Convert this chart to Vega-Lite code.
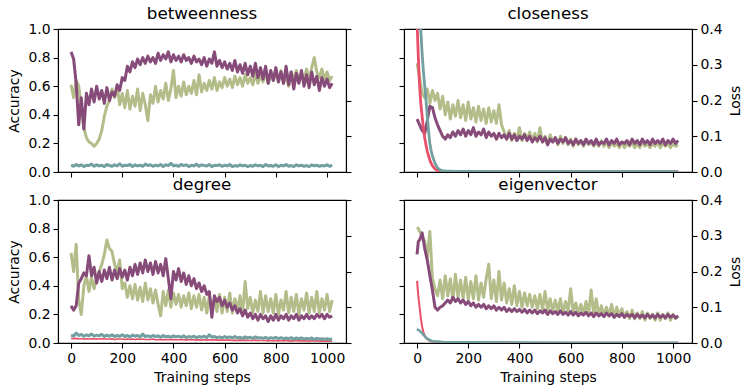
{
"$schema": "https://vega.github.io/schema/vega-lite/v6.json",
"padding": {"left": 7, "top": 5, "right": 0, "bottom": 0},
"background": "white",
"config": {
  "font": "DejaVu Sans",
  "view": {"stroke": "black", "strokeWidth": 1.1},
  "axis": {"grid": false, "domainColor": "black", "domainWidth": 1.1, "tickColor": "black", "tickWidth": 1.1, "tickSize": 5, "labelFont": "DejaVu Sans", "labelFontSize": 13.9, "labelColor": "black", "labelPadding": 3, "labelFlush": false, "labelOverlap": false, "titleFont": "DejaVu Sans", "titleFontSize": 13.9, "titleFontWeight": "normal", "titleColor": "black", "titlePadding": 6},
  "title": {"font": "DejaVu Sans", "fontSize": 16.7, "fontWeight": "normal", "color": "black", "offset": -1}
},
"datasets": {
"bet": [
{"s":0,"p":0.84,"o":0.61,"t":0.019},{"s":10,"p":0.79,"o":0.52,"t":0.016},{"s":20,"p":0.62,"o":0.64,"t":0.021},{"s":30,"p":0.33,"o":0.60,"t":0.017},{"s":40,"p":0.52,"o":0.45,"t":0.020},{"s":50,"p":0.30,"o":0.31,"t":0.015},{"s":60,"p":0.55,"o":0.24,"t":0.019},{"s":70,"p":0.47,"o":0.21,"t":0.018},{"s":80,"p":0.58,"o":0.20,"t":0.022},{"s":90,"p":0.49,"o":0.18,"t":0.016},
{"s":100,"p":0.60,"o":0.20,"t":0.020},{"s":110,"p":0.51,"o":0.23,"t":0.017},{"s":120,"p":0.57,"o":0.29,"t":0.019},{"s":130,"p":0.48,"o":0.39,"t":0.015},{"s":140,"p":0.59,"o":0.46,"t":0.021},{"s":150,"p":0.50,"o":0.50,"t":0.018},{"s":160,"p":0.56,"o":0.58,"t":0.016},{"s":170,"p":0.53,"o":0.52,"t":0.020},{"s":180,"p":0.61,"o":0.60,"t":0.017},{"s":190,"p":0.57,"o":0.47,"t":0.023},
{"s":200,"p":0.66,"o":0.55,"t":0.016},{"s":210,"p":0.64,"o":0.45,"t":0.019},{"s":220,"p":0.74,"o":0.57,"t":0.018},{"s":230,"p":0.70,"o":0.44,"t":0.021},{"s":240,"p":0.77,"o":0.53,"t":0.015},{"s":250,"p":0.73,"o":0.46,"t":0.020},{"s":260,"p":0.79,"o":0.58,"t":0.017},{"s":270,"p":0.75,"o":0.43,"t":0.019},{"s":280,"p":0.80,"o":0.55,"t":0.016},{"s":290,"p":0.76,"o":0.47,"t":0.022},
{"s":300,"p":0.81,"o":0.36,"t":0.018},{"s":310,"p":0.77,"o":0.54,"t":0.020},{"s":320,"p":0.80,"o":0.48,"t":0.016},{"s":330,"p":0.76,"o":0.60,"t":0.019},{"s":340,"p":0.83,"o":0.49,"t":0.017},{"s":350,"p":0.78,"o":0.57,"t":0.021},{"s":360,"p":0.82,"o":0.51,"t":0.015},{"s":370,"p":0.79,"o":0.62,"t":0.020},{"s":380,"p":0.84,"o":0.50,"t":0.018},{"s":390,"p":0.77,"o":0.58,"t":0.024},
{"s":400,"p":0.82,"o":0.71,"t":0.017},{"s":410,"p":0.78,"o":0.52,"t":0.019},{"s":420,"p":0.81,"o":0.60,"t":0.016},{"s":430,"p":0.77,"o":0.53,"t":0.021},{"s":440,"p":0.82,"o":0.63,"t":0.018},{"s":450,"p":0.78,"o":0.54,"t":0.020},{"s":460,"p":0.80,"o":0.60,"t":0.015},{"s":470,"p":0.76,"o":0.55,"t":0.019},{"s":480,"p":0.81,"o":0.64,"t":0.017},{"s":490,"p":0.77,"o":0.54,"t":0.022},
{"s":500,"p":0.79,"o":0.68,"t":0.016},{"s":510,"p":0.75,"o":0.56,"t":0.020},{"s":520,"p":0.80,"o":0.62,"t":0.018},{"s":530,"p":0.74,"o":0.57,"t":0.017},{"s":540,"p":0.79,"o":0.64,"t":0.021},{"s":550,"p":0.76,"o":0.58,"t":0.015},{"s":560,"p":0.84,"o":0.66,"t":0.019},{"s":570,"p":0.74,"o":0.57,"t":0.018},{"s":580,"p":0.78,"o":0.63,"t":0.020},{"s":590,"p":0.73,"o":0.59,"t":0.016},
{"s":600,"p":0.77,"o":0.66,"t":0.019},{"s":610,"p":0.72,"o":0.60,"t":0.017},{"s":620,"p":0.76,"o":0.65,"t":0.021},{"s":630,"p":0.71,"o":0.59,"t":0.015},{"s":640,"p":0.78,"o":0.67,"t":0.018},{"s":650,"p":0.70,"o":0.61,"t":0.016},{"s":660,"p":0.75,"o":0.66,"t":0.020},{"s":670,"p":0.69,"o":0.60,"t":0.017},{"s":680,"p":0.76,"o":0.68,"t":0.019},{"s":690,"p":0.68,"o":0.62,"t":0.015},
{"s":700,"p":0.74,"o":0.66,"t":0.018},{"s":710,"p":0.67,"o":0.61,"t":0.016},{"s":720,"p":0.76,"o":0.69,"t":0.020},{"s":730,"p":0.66,"o":0.62,"t":0.017},{"s":740,"p":0.73,"o":0.67,"t":0.019},{"s":750,"p":0.65,"o":0.63,"t":0.015},{"s":760,"p":0.74,"o":0.70,"t":0.021},{"s":770,"p":0.62,"o":0.62,"t":0.017},{"s":780,"p":0.71,"o":0.68,"t":0.018},{"s":790,"p":0.64,"o":0.64,"t":0.016},
{"s":800,"p":0.73,"o":0.69,"t":0.020},{"s":810,"p":0.63,"o":0.63,"t":0.015},{"s":820,"p":0.70,"o":0.71,"t":0.019},{"s":830,"p":0.62,"o":0.62,"t":0.017},{"s":840,"p":0.74,"o":0.68,"t":0.021},{"s":850,"p":0.61,"o":0.60,"t":0.016},{"s":860,"p":0.70,"o":0.70,"t":0.018},{"s":870,"p":0.58,"o":0.64,"t":0.015},{"s":880,"p":0.69,"o":0.71,"t":0.020},{"s":890,"p":0.62,"o":0.63,"t":0.017},
{"s":900,"p":0.71,"o":0.69,"t":0.019},{"s":910,"p":0.60,"o":0.65,"t":0.016},{"s":920,"p":0.68,"o":0.72,"t":0.018},{"s":930,"p":0.59,"o":0.64,"t":0.015},{"s":940,"p":0.70,"o":0.73,"t":0.020},{"s":950,"p":0.61,"o":0.80,"t":0.017},{"s":960,"p":0.67,"o":0.70,"t":0.019},{"s":970,"p":0.57,"o":0.66,"t":0.016},{"s":980,"p":0.66,"o":0.72,"t":0.018},{"s":990,"p":0.60,"o":0.65,"t":0.017},
{"s":1000,"p":0.65,"o":0.70,"t":0.020},{"s":1010,"p":0.59,"o":0.64,"t":0.016},{"s":1020,"p":0.62,"o":0.67,"t":0.019}
],
"clo": [
{"s":0,"p":0.37,"o":0.76},{"s":10,"p":0.33,"o":0.66},{"s":20,"p":0.29,"o":0.55},{"s":30,"p":0.27,"o":0.52},{"s":40,"p":0.36,"o":0.58},{"s":50,"p":0.46,"o":0.48},{"s":60,"p":0.45,"o":0.57},{"s":70,"p":0.38,"o":0.50},{"s":80,"p":0.33,"o":0.55},{"s":90,"p":0.29,"o":0.44},
{"s":100,"p":0.25,"o":0.53},{"s":110,"p":0.23,"o":0.40},{"s":120,"p":0.26,"o":0.49},{"s":130,"p":0.24,"o":0.37},{"s":140,"p":0.28,"o":0.47},{"s":150,"p":0.25,"o":0.39},{"s":160,"p":0.29,"o":0.50},{"s":170,"p":0.26,"o":0.38},{"s":180,"p":0.30,"o":0.47},{"s":190,"p":0.25,"o":0.36},
{"s":200,"p":0.29,"o":0.49},{"s":210,"p":0.26,"o":0.37},{"s":220,"p":0.31,"o":0.45},{"s":230,"p":0.25,"o":0.35},{"s":240,"p":0.28,"o":0.46},{"s":250,"p":0.26,"o":0.36},{"s":260,"p":0.30,"o":0.44},{"s":270,"p":0.24,"o":0.34},{"s":280,"p":0.28,"o":0.45},{"s":290,"p":0.25,"o":0.35},
{"s":300,"p":0.27,"o":0.43},{"s":310,"p":0.23,"o":0.34},{"s":320,"p":0.27,"o":0.47},{"s":330,"p":0.24,"o":0.33},{"s":340,"p":0.26,"o":0.28},{"s":350,"p":0.23,"o":0.24},{"s":360,"p":0.27,"o":0.29},{"s":370,"p":0.23,"o":0.22},{"s":380,"p":0.26,"o":0.27},{"s":390,"p":0.22,"o":0.23},
{"s":400,"p":0.25,"o":0.31},{"s":410,"p":0.23,"o":0.22},{"s":420,"p":0.26,"o":0.27},{"s":430,"p":0.22,"o":0.23},{"s":440,"p":0.25,"o":0.28},{"s":450,"p":0.21,"o":0.22},{"s":460,"p":0.24,"o":0.27},{"s":470,"p":0.22,"o":0.21},{"s":480,"p":0.25,"o":0.31},{"s":490,"p":0.21,"o":0.21},
{"s":500,"p":0.24,"o":0.25},{"s":510,"p":0.19,"o":0.20},{"s":520,"p":0.23,"o":0.26},{"s":530,"p":0.21,"o":0.21},{"s":540,"p":0.24,"o":0.24},{"s":550,"p":0.20,"o":0.19},{"s":560,"p":0.23,"o":0.25},{"s":570,"p":0.21,"o":0.20},{"s":580,"p":0.24,"o":0.24},{"s":590,"p":0.20,"o":0.19},
{"s":600,"p":0.22,"o":0.23},{"s":610,"p":0.19,"o":0.18},{"s":620,"p":0.23,"o":0.23},{"s":630,"p":0.20,"o":0.19},{"s":640,"p":0.22,"o":0.22},{"s":650,"p":0.19,"o":0.18},{"s":660,"p":0.23,"o":0.22},{"s":670,"p":0.20,"o":0.19},{"s":680,"p":0.22,"o":0.21},{"s":690,"p":0.19,"o":0.18},
{"s":700,"p":0.23,"o":0.21},{"s":710,"p":0.19,"o":0.18},{"s":720,"p":0.21,"o":0.22},{"s":730,"p":0.20,"o":0.18},{"s":740,"p":0.23,"o":0.21},{"s":750,"p":0.19,"o":0.17},{"s":760,"p":0.22,"o":0.21},{"s":770,"p":0.20,"o":0.18},{"s":780,"p":0.23,"o":0.20},{"s":790,"p":0.19,"o":0.17},
{"s":800,"p":0.21,"o":0.21},{"s":810,"p":0.20,"o":0.17},{"s":820,"p":0.22,"o":0.20},{"s":830,"p":0.19,"o":0.18},{"s":840,"p":0.23,"o":0.21},{"s":850,"p":0.20,"o":0.17},{"s":860,"p":0.22,"o":0.20},{"s":870,"p":0.19,"o":0.17},{"s":880,"p":0.23,"o":0.21},{"s":890,"p":0.20,"o":0.18},
{"s":900,"p":0.22,"o":0.20},{"s":910,"p":0.19,"o":0.17},{"s":920,"p":0.23,"o":0.20},{"s":930,"p":0.20,"o":0.18},{"s":940,"p":0.22,"o":0.21},{"s":950,"p":0.20,"o":0.17},{"s":960,"p":0.23,"o":0.20},{"s":970,"p":0.19,"o":0.18},{"s":980,"p":0.22,"o":0.20},{"s":990,"p":0.20,"o":0.17},
{"s":1000,"p":0.23,"o":0.20},{"s":1010,"p":0.20,"o":0.18},{"s":1020,"p":0.22,"o":0.19}
],
"cloL": [
{"s":0,"r":0.42,"t":0.62},{"s":5,"r":0.32,"t":0.52},{"s":10,"r":0.24,"t":0.45},{"s":15,"r":0.19,"t":0.39},{"s":20,"r":0.155,"t":0.33},{"s":25,"r":0.12,"t":0.28},{"s":30,"r":0.095,"t":0.24},{"s":35,"r":0.075,"t":0.20},{"s":40,"r":0.058,"t":0.155},{"s":45,"r":0.045,"t":0.115},{"s":50,"r":0.033,"t":0.08},{"s":55,"r":0.025,"t":0.06},{"s":60,"r":0.018,"t":0.045},{"s":70,"r":0.009,"t":0.025},{"s":80,"r":0.004,"t":0.012},{"s":90,"r":0.003,"t":0.006},{"s":100,"r":0.002,"t":0.003},{"s":150,"r":0.0015,"t":0.002},{"s":200,"r":0.001,"t":0.0015},{"s":400,"r":0.001,"t":0.001},{"s":600,"r":0.001,"t":0.001},{"s":800,"r":0.001,"t":0.001},{"s":1020,"r":0.001,"t":0.001}
],
"deg": [
{"s":0,"p":0.26,"o":0.63,"t":0.022,"r":0.013},{"s":10,"p":0.23,"o":0.50,"t":0.019,"r":0.012},{"s":20,"p":0.26,"o":0.69,"t":0.028,"r":0.013},{"s":30,"p":0.42,"o":0.30,"t":0.021,"r":0.012},{"s":40,"p":0.45,"o":0.20,"t":0.024,"r":0.012},{"s":50,"p":0.49,"o":0.40,"t":0.019,"r":0.011},{"s":60,"p":0.47,"o":0.47,"t":0.023,"r":0.012},{"s":70,"p":0.61,"o":0.36,"t":0.020,"r":0.011},{"s":80,"p":0.47,"o":0.46,"t":0.025,"r":0.012},{"s":90,"p":0.53,"o":0.38,"t":0.019,"r":0.011},
{"s":100,"p":0.42,"o":0.45,"t":0.022,"r":0.012},{"s":110,"p":0.50,"o":0.50,"t":0.020,"r":0.011},{"s":120,"p":0.43,"o":0.55,"t":0.024,"r":0.012},{"s":130,"p":0.51,"o":0.62,"t":0.018,"r":0.011},{"s":140,"p":0.45,"o":0.72,"t":0.022,"r":0.011},{"s":150,"p":0.53,"o":0.66,"t":0.019,"r":0.011},{"s":160,"p":0.44,"o":0.64,"t":0.023,"r":0.012},{"s":170,"p":0.51,"o":0.55,"t":0.018,"r":0.010},{"s":180,"p":0.45,"o":0.50,"t":0.021,"r":0.011},{"s":190,"p":0.52,"o":0.58,"t":0.019,"r":0.011},
{"s":200,"p":0.46,"o":0.38,"t":0.023,"r":0.011},{"s":210,"p":0.51,"o":0.42,"t":0.018,"r":0.010},{"s":220,"p":0.44,"o":0.32,"t":0.021,"r":0.011},{"s":230,"p":0.53,"o":0.40,"t":0.017,"r":0.010},{"s":240,"p":0.47,"o":0.31,"t":0.022,"r":0.011},{"s":250,"p":0.55,"o":0.41,"t":0.019,"r":0.010},{"s":260,"p":0.48,"o":0.30,"t":0.021,"r":0.011},{"s":270,"p":0.56,"o":0.39,"t":0.017,"r":0.010},{"s":280,"p":0.49,"o":0.29,"t":0.025,"r":0.011},{"s":290,"p":0.58,"o":0.42,"t":0.018,"r":0.010},
{"s":300,"p":0.50,"o":0.30,"t":0.020,"r":0.010},{"s":310,"p":0.56,"o":0.38,"t":0.017,"r":0.010},{"s":320,"p":0.48,"o":0.28,"t":0.021,"r":0.011},{"s":330,"p":0.57,"o":0.37,"t":0.018,"r":0.009},{"s":340,"p":0.49,"o":0.27,"t":0.020,"r":0.010},{"s":350,"p":0.55,"o":0.19,"t":0.016,"r":0.009},{"s":360,"p":0.47,"o":0.36,"t":0.021,"r":0.010},{"s":370,"p":0.59,"o":0.26,"t":0.017,"r":0.009},{"s":380,"p":0.45,"o":0.37,"t":0.019,"r":0.010},{"s":390,"p":0.31,"o":0.25,"t":0.016,"r":0.009},
{"s":400,"p":0.50,"o":0.35,"t":0.020,"r":0.010},{"s":410,"p":0.44,"o":0.27,"t":0.017,"r":0.009},{"s":420,"p":0.52,"o":0.34,"t":0.019,"r":0.009},{"s":430,"p":0.43,"o":0.25,"t":0.016,"r":0.009},{"s":440,"p":0.49,"o":0.33,"t":0.020,"r":0.010},{"s":450,"p":0.41,"o":0.26,"t":0.015,"r":0.008},{"s":460,"p":0.47,"o":0.35,"t":0.018,"r":0.009},{"s":470,"p":0.40,"o":0.24,"t":0.016,"r":0.009},{"s":480,"p":0.45,"o":0.33,"t":0.019,"r":0.009},{"s":490,"p":0.38,"o":0.25,"t":0.015,"r":0.008},
{"s":500,"p":0.42,"o":0.34,"t":0.018,"r":0.009},{"s":510,"p":0.36,"o":0.23,"t":0.016,"r":0.008},{"s":520,"p":0.40,"o":0.32,"t":0.019,"r":0.009},{"s":530,"p":0.34,"o":0.21,"t":0.015,"r":0.008},{"s":540,"p":0.36,"o":0.33,"t":0.023,"r":0.009},{"s":550,"p":0.18,"o":0.24,"t":0.016,"r":0.008},{"s":560,"p":0.33,"o":0.31,"t":0.018,"r":0.009},{"s":570,"p":0.29,"o":0.22,"t":0.015,"r":0.008},{"s":580,"p":0.32,"o":0.34,"t":0.017,"r":0.008},{"s":590,"p":0.26,"o":0.21,"t":0.014,"r":0.008},
{"s":600,"p":0.30,"o":0.32,"t":0.018,"r":0.008},{"s":610,"p":0.25,"o":0.22,"t":0.015,"r":0.008},{"s":620,"p":0.28,"o":0.35,"t":0.017,"r":0.008},{"s":630,"p":0.23,"o":0.21,"t":0.014,"r":0.007},{"s":640,"p":0.26,"o":0.31,"t":0.018,"r":0.008},{"s":650,"p":0.21,"o":0.23,"t":0.014,"r":0.007},{"s":660,"p":0.24,"o":0.33,"t":0.016,"r":0.008},{"s":670,"p":0.19,"o":0.21,"t":0.013,"r":0.007},{"s":680,"p":0.23,"o":0.43,"t":0.017,"r":0.008},{"s":690,"p":0.18,"o":0.24,"t":0.014,"r":0.007},
{"s":700,"p":0.21,"o":0.32,"t":0.016,"r":0.007},{"s":710,"p":0.17,"o":0.21,"t":0.013,"r":0.007},{"s":720,"p":0.20,"o":0.30,"t":0.017,"r":0.008},{"s":730,"p":0.16,"o":0.22,"t":0.014,"r":0.007},{"s":740,"p":0.20,"o":0.36,"t":0.015,"r":0.007},{"s":750,"p":0.17,"o":0.21,"t":0.013,"r":0.007},{"s":760,"p":0.19,"o":0.33,"t":0.016,"r":0.007},{"s":770,"p":0.15,"o":0.22,"t":0.012,"r":0.006},{"s":780,"p":0.19,"o":0.31,"t":0.015,"r":0.007},{"s":790,"p":0.16,"o":0.21,"t":0.013,"r":0.006},
{"s":800,"p":0.20,"o":0.34,"t":0.016,"r":0.007},{"s":810,"p":0.16,"o":0.20,"t":0.012,"r":0.006},{"s":820,"p":0.19,"o":0.30,"t":0.015,"r":0.007},{"s":830,"p":0.17,"o":0.23,"t":0.012,"r":0.006},{"s":840,"p":0.20,"o":0.36,"t":0.014,"r":0.007},{"s":850,"p":0.16,"o":0.21,"t":0.012,"r":0.006},{"s":860,"p":0.19,"o":0.32,"t":0.015,"r":0.006},{"s":870,"p":0.17,"o":0.22,"t":0.011,"r":0.006},{"s":880,"p":0.20,"o":0.34,"t":0.014,"r":0.007},{"s":890,"p":0.16,"o":0.20,"t":0.012,"r":0.006},
{"s":900,"p":0.19,"o":0.31,"t":0.014,"r":0.006},{"s":910,"p":0.17,"o":0.23,"t":0.011,"r":0.006},{"s":920,"p":0.20,"o":0.35,"t":0.013,"r":0.006},{"s":930,"p":0.17,"o":0.21,"t":0.011,"r":0.005},{"s":940,"p":0.19,"o":0.32,"t":0.014,"r":0.006},{"s":950,"p":0.17,"o":0.22,"t":0.010,"r":0.006},{"s":960,"p":0.20,"o":0.36,"t":0.013,"r":0.006},{"s":970,"p":0.18,"o":0.21,"t":0.011,"r":0.005},{"s":980,"p":0.20,"o":0.31,"t":0.012,"r":0.006},{"s":990,"p":0.17,"o":0.23,"t":0.010,"r":0.005},
{"s":1000,"p":0.20,"o":0.34,"t":0.012,"r":0.006},{"s":1010,"p":0.18,"o":0.22,"t":0.010,"r":0.005},{"s":1020,"p":0.19,"o":0.30,"t":0.011,"r":0.005}
],
"eig": [
{"s":0,"p":0.62,"o":0.81},{"s":5,"p":0.71,"o":0.80},{"s":10,"p":0.72,"o":0.78},{"s":20,"p":0.77,"o":0.75},{"s":30,"p":0.66,"o":0.71},{"s":40,"p":0.58,"o":0.60},{"s":50,"p":0.47,"o":0.78},{"s":60,"p":0.37,"o":0.45},{"s":70,"p":0.25,"o":0.38},{"s":80,"p":0.23,"o":0.33},{"s":90,"p":0.25,"o":0.44},
{"s":100,"p":0.26,"o":0.31},{"s":110,"p":0.28,"o":0.47},{"s":120,"p":0.30,"o":0.33},{"s":130,"p":0.28,"o":0.45},{"s":140,"p":0.32,"o":0.30},{"s":150,"p":0.29,"o":0.48},{"s":160,"p":0.31,"o":0.32},{"s":170,"p":0.28,"o":0.44},{"s":180,"p":0.30,"o":0.31},{"s":190,"p":0.27,"o":0.46},
{"s":200,"p":0.29,"o":0.30},{"s":210,"p":0.26,"o":0.43},{"s":220,"p":0.28,"o":0.31},{"s":230,"p":0.25,"o":0.47},{"s":240,"p":0.27,"o":0.30},{"s":250,"p":0.25,"o":0.42},{"s":260,"p":0.27,"o":0.32},{"s":270,"p":0.24,"o":0.45},{"s":280,"p":0.26,"o":0.55},{"s":290,"p":0.24,"o":0.31},
{"s":300,"p":0.26,"o":0.44},{"s":310,"p":0.23,"o":0.29},{"s":320,"p":0.25,"o":0.50},{"s":330,"p":0.23,"o":0.30},{"s":340,"p":0.25,"o":0.42},{"s":350,"p":0.22,"o":0.28},{"s":360,"p":0.24,"o":0.38},{"s":370,"p":0.22,"o":0.27},{"s":380,"p":0.24,"o":0.40},{"s":390,"p":0.22,"o":0.26},
{"s":400,"p":0.235,"o":0.36},{"s":410,"p":0.215,"o":0.25},{"s":420,"p":0.235,"o":0.35},{"s":430,"p":0.21,"o":0.26},{"s":440,"p":0.23,"o":0.34},{"s":450,"p":0.21,"o":0.25},{"s":460,"p":0.23,"o":0.33},{"s":470,"p":0.205,"o":0.24},{"s":480,"p":0.225,"o":0.34},{"s":490,"p":0.21,"o":0.23},
{"s":500,"p":0.23,"o":0.36},{"s":510,"p":0.20,"o":0.23},{"s":520,"p":0.225,"o":0.31},{"s":530,"p":0.205,"o":0.22},{"s":540,"p":0.22,"o":0.30},{"s":550,"p":0.20,"o":0.22},{"s":560,"p":0.225,"o":0.31},{"s":570,"p":0.20,"o":0.21},{"s":580,"p":0.215,"o":0.29},{"s":590,"p":0.195,"o":0.22},
{"s":600,"p":0.22,"o":0.38},{"s":610,"p":0.195,"o":0.21},{"s":620,"p":0.215,"o":0.28},{"s":630,"p":0.19,"o":0.21},{"s":640,"p":0.21,"o":0.27},{"s":650,"p":0.195,"o":0.20},{"s":660,"p":0.215,"o":0.29},{"s":670,"p":0.19,"o":0.20},{"s":680,"p":0.21,"o":0.37},{"s":690,"p":0.185,"o":0.20},
{"s":700,"p":0.21,"o":0.31},{"s":710,"p":0.19,"o":0.19},{"s":720,"p":0.205,"o":0.26},{"s":730,"p":0.185,"o":0.19},{"s":740,"p":0.21,"o":0.25},{"s":750,"p":0.19,"o":0.19},{"s":760,"p":0.205,"o":0.27},{"s":770,"p":0.18,"o":0.18},{"s":780,"p":0.20,"o":0.25},{"s":790,"p":0.185,"o":0.19},
{"s":800,"p":0.205,"o":0.24},{"s":810,"p":0.18,"o":0.18},{"s":820,"p":0.20,"o":0.22},{"s":830,"p":0.185,"o":0.17},{"s":840,"p":0.20,"o":0.23},{"s":850,"p":0.175,"o":0.17},{"s":860,"p":0.20,"o":0.21},{"s":870,"p":0.18,"o":0.17},{"s":880,"p":0.195,"o":0.22},{"s":890,"p":0.175,"o":0.16},
{"s":900,"p":0.20,"o":0.21},{"s":910,"p":0.18,"o":0.17},{"s":920,"p":0.195,"o":0.20},{"s":930,"p":0.175,"o":0.16},{"s":940,"p":0.20,"o":0.21},{"s":950,"p":0.18,"o":0.16},{"s":960,"p":0.195,"o":0.20},{"s":970,"p":0.175,"o":0.17},{"s":980,"p":0.20,"o":0.21},{"s":990,"p":0.18,"o":0.16},
{"s":1000,"p":0.195,"o":0.20},{"s":1010,"p":0.175,"o":0.17},{"s":1020,"p":0.19,"o":0.19}
],
"eigL": [
{"s":0,"r":0.174,"t":0.039},{"s":5,"r":0.13,"t":0.036},{"s":10,"r":0.10,"t":0.035},{"s":15,"r":0.068,"t":0.030},{"s":20,"r":0.045,"t":0.028},{"s":25,"r":0.030,"t":0.022},{"s":30,"r":0.020,"t":0.020},{"s":35,"r":0.015,"t":0.014},{"s":40,"r":0.011,"t":0.012},{"s":50,"r":0.006,"t":0.008},{"s":60,"r":0.004,"t":0.005},{"s":80,"r":0.003,"t":0.004},{"s":100,"r":0.002,"t":0.003},{"s":200,"r":0.0015,"t":0.002},{"s":400,"r":0.001,"t":0.0015},{"s":600,"r":0.001,"t":0.001},{"s":800,"r":0.001,"t":0.001},{"s":1020,"r":0.001,"t":0.001}
]
},
"concat": [
{
 "width": 288, "height": 143,
 "title": {"text": "betweenness"},
 "data": {"name": "bet"},
 "encoding": {"x": {"field": "s", "type": "quantitative", "scale": {"domain": [-51, 1074], "nice": false, "zero": false}, "axis": {"values": [0,200,400,600,800,1000], "labels": false, "title": null}}},
 "layer": [
  {"layer": [
   {"mark": {"type": "line", "color": "#b3bd89", "strokeWidth": 3, "clip": true, "strokeJoin": "round"},
    "encoding": {"y": {"field": "o", "type": "quantitative", "scale": {"domain": [0, 1], "nice": false}, "axis": {"orient": "left", "values": [0,0.2,0.4,0.6,0.8,1], "format": ".1f", "title": "Accuracy"}}}},
   {"mark": {"type": "line", "color": "#874b79", "strokeWidth": 3, "clip": true, "strokeJoin": "round"},
    "encoding": {"y": {"field": "p", "type": "quantitative", "scale": {"domain": [0, 1], "nice": false}, "axis": {"orient": "left", "values": [0,0.2,0.4,0.6,0.8,1], "format": ".1f", "title": "Accuracy"}}}}
  ]},
  {"layer": [
   {"mark": {"type": "line", "color": "#72a0a0", "strokeWidth": 3, "clip": true, "strokeJoin": "round"},
    "encoding": {"y": {"field": "t", "type": "quantitative", "scale": {"domain": [0, 0.4], "nice": false}, "axis": {"orient": "right", "values": [0,0.1,0.2,0.3,0.4], "labels": false, "title": null}}}}
  ]}
 ],
 "resolve": {"scale": {"y": "independent"}}
},
{
 "width": 288, "height": 143,
 "title": {"text": "closeness"},
 "data": {"name": "clo"},
 "encoding": {"x": {"field": "s", "type": "quantitative", "scale": {"domain": [-51, 1074], "nice": false, "zero": false}, "axis": {"values": [0,200,400,600,800,1000], "labels": false, "title": null}}},
 "layer": [
  {"layer": [
   {"mark": {"type": "line", "color": "#b3bd89", "strokeWidth": 3, "clip": true, "strokeJoin": "round"},
    "encoding": {"y": {"field": "o", "type": "quantitative", "scale": {"domain": [0, 1], "nice": false}, "axis": {"orient": "left", "values": [0,0.2,0.4,0.6,0.8,1], "labels": false, "title": null}}}},
   {"mark": {"type": "line", "color": "#874b79", "strokeWidth": 3, "clip": true, "strokeJoin": "round"},
    "encoding": {"y": {"field": "p", "type": "quantitative", "scale": {"domain": [0, 1], "nice": false}, "axis": {"orient": "left", "values": [0,0.2,0.4,0.6,0.8,1], "labels": false, "title": null}}}}
  ]},
  {"data": {"name": "cloL"},
   "layer": [
   {"mark": {"type": "line", "color": "#e8506a", "strokeWidth": 2.8, "clip": true, "strokeJoin": "round"},
    "encoding": {"y": {"field": "r", "type": "quantitative", "scale": {"domain": [0, 0.4], "nice": false}, "axis": {"orient": "right", "values": [0,0.1,0.2,0.3,0.4], "format": ".1f", "title": "Loss", "titleAngle": 270, "titleBaseline": "top"}}}},
   {"mark": {"type": "line", "color": "#72a0a0", "strokeWidth": 2.8, "clip": true, "strokeJoin": "round"},
    "encoding": {"y": {"field": "t", "type": "quantitative", "scale": {"domain": [0, 0.4], "nice": false}, "axis": {"orient": "right", "values": [0,0.1,0.2,0.3,0.4], "format": ".1f", "title": "Loss", "titleAngle": 270, "titleBaseline": "top"}}}}
  ]}
 ],
 "resolve": {"scale": {"y": "independent"}}
},
{
 "width": 288, "height": 143,
 "title": {"text": "degree"},
 "data": {"name": "deg"},
 "encoding": {"x": {"field": "s", "type": "quantitative", "scale": {"domain": [-51, 1074], "nice": false, "zero": false}, "axis": {"values": [0,200,400,600,800,1000], "format": "d", "title": "Training steps"}}},
 "layer": [
  {"layer": [
   {"mark": {"type": "line", "color": "#b3bd89", "strokeWidth": 3, "clip": true, "strokeJoin": "round"},
    "encoding": {"y": {"field": "o", "type": "quantitative", "scale": {"domain": [0, 1], "nice": false}, "axis": {"orient": "left", "values": [0,0.2,0.4,0.6,0.8,1], "format": ".1f", "title": "Accuracy"}}}},
   {"mark": {"type": "line", "color": "#874b79", "strokeWidth": 3, "clip": true, "strokeJoin": "round"},
    "encoding": {"y": {"field": "p", "type": "quantitative", "scale": {"domain": [0, 1], "nice": false}, "axis": {"orient": "left", "values": [0,0.2,0.4,0.6,0.8,1], "format": ".1f", "title": "Accuracy"}}}}
  ]},
  {"layer": [
   {"mark": {"type": "line", "color": "#e8506a", "strokeWidth": 1.6, "clip": true, "strokeJoin": "round"},
    "encoding": {"y": {"field": "r", "type": "quantitative", "scale": {"domain": [0, 0.4], "nice": false}, "axis": {"orient": "right", "values": [0,0.1,0.2,0.3,0.4], "labels": false, "title": null}}}},
   {"mark": {"type": "line", "color": "#72a0a0", "strokeWidth": 3, "clip": true, "strokeJoin": "round"},
    "encoding": {"y": {"field": "t", "type": "quantitative", "scale": {"domain": [0, 0.4], "nice": false}, "axis": {"orient": "right", "values": [0,0.1,0.2,0.3,0.4], "labels": false, "title": null}}}}
  ]}
 ],
 "resolve": {"scale": {"y": "independent"}}
},
{
 "width": 288, "height": 143,
 "title": {"text": "eigenvector"},
 "data": {"name": "eig"},
 "encoding": {"x": {"field": "s", "type": "quantitative", "scale": {"domain": [-51, 1074], "nice": false, "zero": false}, "axis": {"values": [0,200,400,600,800,1000], "format": "d", "title": "Training steps"}}},
 "layer": [
  {"layer": [
   {"mark": {"type": "line", "color": "#b3bd89", "strokeWidth": 3, "clip": true, "strokeJoin": "round"},
    "encoding": {"y": {"field": "o", "type": "quantitative", "scale": {"domain": [0, 1], "nice": false}, "axis": {"orient": "left", "values": [0,0.2,0.4,0.6,0.8,1], "labels": false, "title": null}}}},
   {"mark": {"type": "line", "color": "#874b79", "strokeWidth": 3, "clip": true, "strokeJoin": "round"},
    "encoding": {"y": {"field": "p", "type": "quantitative", "scale": {"domain": [0, 1], "nice": false}, "axis": {"orient": "left", "values": [0,0.2,0.4,0.6,0.8,1], "labels": false, "title": null}}}}
  ]},
  {"data": {"name": "eigL"},
   "layer": [
   {"mark": {"type": "line", "color": "#e8506a", "strokeWidth": 2, "clip": true, "strokeJoin": "round"},
    "encoding": {"y": {"field": "r", "type": "quantitative", "scale": {"domain": [0, 0.4], "nice": false}, "axis": {"orient": "right", "values": [0,0.1,0.2,0.3,0.4], "format": ".1f", "title": "Loss", "titleAngle": 270, "titleBaseline": "top"}}}},
   {"mark": {"type": "line", "color": "#72a0a0", "strokeWidth": 2.5, "clip": true, "strokeJoin": "round"},
    "encoding": {"y": {"field": "t", "type": "quantitative", "scale": {"domain": [0, 0.4], "nice": false}, "axis": {"orient": "right", "values": [0,0.1,0.2,0.3,0.4], "format": ".1f", "title": "Loss", "titleAngle": 270, "titleBaseline": "top"}}}}
  ]}
 ],
 "resolve": {"scale": {"y": "independent"}}
}
],
"columns": 2,
"spacing": {"row": 28, "column": 58},
"bounds": "flush"
}
